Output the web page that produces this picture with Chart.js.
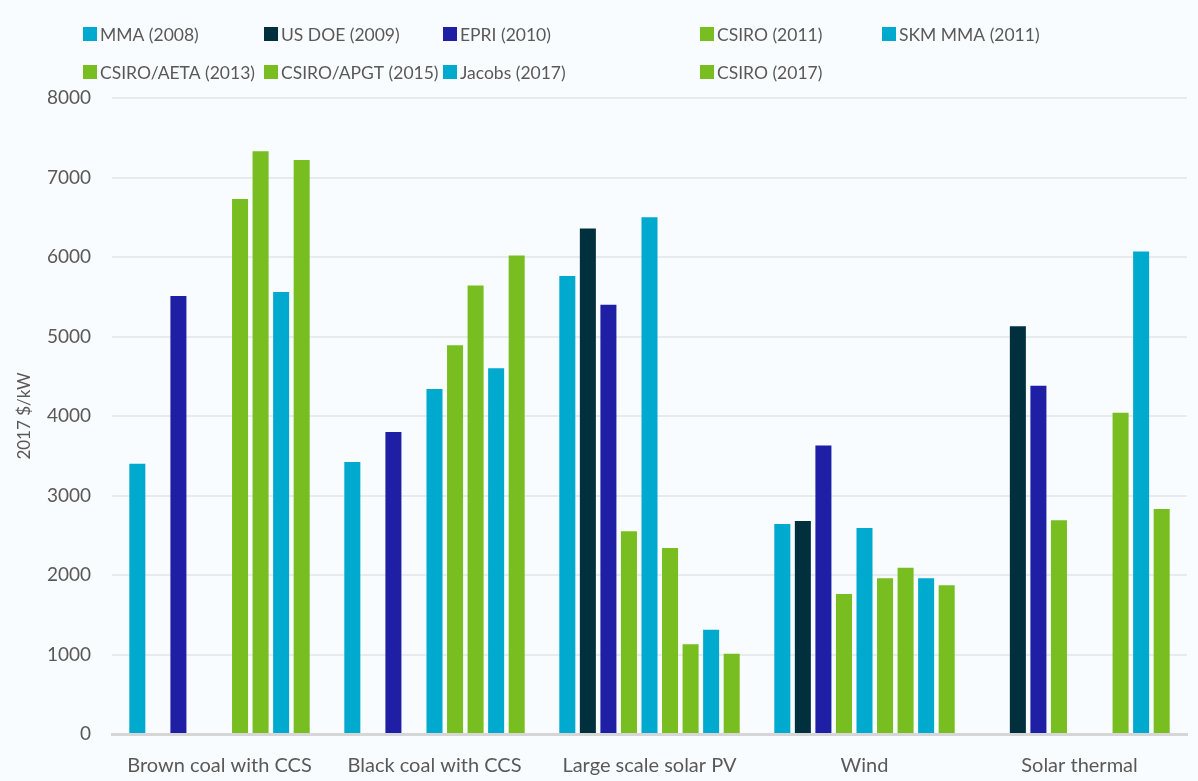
<!DOCTYPE html>
<html>
<head>
<meta charset="utf-8">
<script src="https://cdn.jsdelivr.net/npm/chart.js@4.4.1/dist/chart.umd.min.js"></script>
<style>
  html, body { margin: 0; padding: 0; background: #F9FCFE; }
  #wrap { width: 1198px; height: 781px; }
</style>
</head>
<body>
<div id="wrap"><canvas id="c" width="1198" height="781"></canvas></div>
<script>
// ---- Data ----
const categories = ['Brown coal with CCS', 'Black coal with CCS', 'Large scale solar PV', 'Wind', 'Solar thermal'];
const seriesNames = ['MMA (2008)', 'US DOE (2009)', 'EPRI (2010)', 'CSIRO (2011)', 'SKM MMA (2011)',
                     'CSIRO/AETA (2013)', 'CSIRO/APGT (2015)', 'Jacobs (2017)', 'CSIRO (2017)'];
const mma2008   = [3400, 3420, 5760, 2640, null];
const usdoe2009 = [null, null, 6360, 2680, 5130];
const epri2010  = [5510, 3800, 5400, 3630, 4380];
const csiro2011 = [null, null, 2550, 1760, 2690];
const skm2011   = [null, 4340, 6500, 2590, null];
const aeta2013  = [6730, 4890, 2340, 1960, null];
const apgt2015  = [7330, 5640, 1130, 2090, 4040];
const jacobs2017= [5560, 4600, 1310, 1960, 6070];
const csiro2017 = [7220, 6020, 1010, 1870, 2830];
const yTicks = [0, 1000, 2000, 3000, 4000, 5000, 6000, 7000, 8000];
const yTitle = '2017 $/kW';

// ---- Styles ----
const CYAN = '#00A9CE', DARK = '#00303D', NAVY = '#1F1FA6', GREEN = '#78BE21';
const seriesColors = [CYAN, DARK, NAVY, GREEN, CYAN, GREEN, GREEN, CYAN, GREEN];
const seriesValues = [mma2008, usdoe2009, epri2010, csiro2011, skm2011, aeta2013, apgt2015, jacobs2017, csiro2017];
const TEXT = '#595959';
const FONT = 'Lato, "Open Sans", sans-serif';

// legend layout (column lefts / row centres in px)
const LEGEND_LAYOUT = { cols: [83, 264, 443, 700, 882], rows: [34, 72], perRow: 5, box: 14, gap: 3, size: 17.5 };

const bgPlugin = {
  id: 'bg',
  beforeDraw(chart) {
    const ctx = chart.ctx;
    ctx.save();
    ctx.fillStyle = '#F9FCFE';
    ctx.fillRect(0, 0, chart.width, chart.height);
    ctx.restore();
  }
};

const gridLegend = {
  id: 'gridLegend',
  afterDraw(chart) {
    const ctx = chart.ctx;
    const L = LEGEND_LAYOUT;
    ctx.save();
    ctx.font = L.size + 'px ' + FONT;
    ctx.textBaseline = 'middle';
    ctx.textAlign = 'left';
    chart.data.datasets.forEach((ds, i) => {
      const col = i % L.perRow, row = Math.floor(i / L.perRow);
      const x = L.cols[col], y = L.rows[row];
      ctx.fillStyle = ds.backgroundColor;
      ctx.fillRect(x, y - L.box / 2, L.box, L.box);
      ctx.fillStyle = TEXT;
      ctx.fillText(ds.label, x + L.box + L.gap, y + 1);
    });
    ctx.restore();
  }
};

const datasets = seriesNames.map((name, i) => ({
  label: name,
  data: seriesValues[i],
  backgroundColor: seriesColors[i],
  borderWidth: 0,
  categoryPercentage: 0.86,
  barPercentage: 0.78
}));

new Chart(document.getElementById('c'), {
  type: 'bar',
  data: { labels: categories, datasets },
  plugins: [bgPlugin, gridLegend],
  options: {
    responsive: false,
    animation: false,
    devicePixelRatio: 1,
    layout: { padding: { top: 98, right: 11, left: 0, bottom: 0 } },
    plugins: {
      legend: { display: false },
      tooltip: { enabled: false }
    },
    scales: {
      x: {
        grid: { display: false, drawTicks: false },
        border: { display: true, color: '#D6D6D6', width: 3 },
        ticks: { color: TEXT, font: { family: FONT, size: 20 }, padding: 20, maxRotation: 0 },
        afterFit(s) { s.height = 47; }
      },
      y: {
        min: 0, max: 8000,
        afterBuildTicks(s) { s.ticks = yTicks.map(v => ({ value: v })); },
        grid: { color: '#E9EAEC', lineWidth: 2, drawTicks: false },
        border: { display: false },
        ticks: { color: TEXT, font: { family: FONT, size: 19 }, padding: 21, callback: v => String(v) },
        title: { display: true, text: yTitle, color: TEXT, font: { family: FONT, size: 17 }, padding: { top: 14, bottom: 0 } },
        afterFit(s) { s.width = 112; }
      }
    }
  }
});
</script>
</body>
</html>
